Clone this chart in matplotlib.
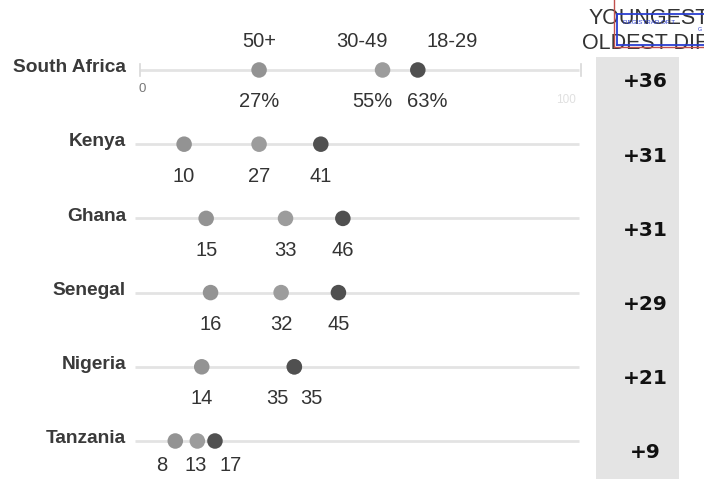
import matplotlib.pyplot as plt
from matplotlib.patches import Rectangle

countries = ["South Africa", "Kenya", "Ghana", "Senegal", "Nigeria", "Tanzania"]
age_groups = ["50+", "30-49", "18-29"]
share_50plus = [27, 10, 15, 16, 14, 8]
share_30_49 = [55, 27, 33, 32, 35, 13]
share_18_29 = [63, 41, 46, 45, 35, 17]
diffs = ["+36", "+31", "+31", "+29", "+21", "+9"]
header = "YOUNGEST-\nOLDEST DIFF"

dot_colors = ["#939393", "#9c9c9c", "#505050"]

W, H = 704, 479
fig = plt.figure(figsize=(W / 100, H / 100), dpi=100)
ax = fig.add_axes([0, 0, 1, 1])
Y_BOTTOM, Y_TOP = 5.512, -0.943
ax.set_xlim(-31.75, 127.9)
ax.set_ylim(Y_BOTTOM, Y_TOP)
ax.axis("off")

font = ["Liberation Sans", "DejaVu Sans"]
txt = "#333333"


def spread(xs, gap):
    """Push label positions apart so neighbours are at least `gap` apart."""
    pos = [float(v) for v in xs]
    order = sorted(range(len(pos)), key=lambda j: pos[j])
    for _ in range(50):
        moved = False
        for a, b in zip(order[:-1], order[1:]):
            d = pos[b] - pos[a]
            if d < gap - 1e-6:
                push = (gap - d) / 2
                pos[a] -= push
                pos[b] += push
                moved = True
        if not moved:
            break
    return pos


# shaded difference column
ax.add_patch(Rectangle((103.5, -0.18), 18.8, 6.0, color="#e4e4e4", zorder=0, lw=0))

series = [share_50plus, share_30_49, share_18_29]
for i, name in enumerate(countries):
    y = i
    left = 0 if i == 0 else -1.2
    ax.plot([left, 99.5], [y, y], color="#e3e3e3", lw=2.0, zorder=1, solid_capstyle="butt")
    if i == 0:
        for xv in (0, 100):
            ax.plot([xv, xv], [y - 0.08, y + 0.08], color="#d8d8d8", lw=1.2, zorder=1)
        ax.text(0.6, y + 0.25, "0", color="#777777", fontsize=9.5, ha="center", va="center",
                family=font)
        ax.text(96.5, y + 0.40, "100", color="#e0e0e0", fontsize=8.5, ha="center",
                va="center", family=font)
    ax.text(-3.2, y - 0.03, name, ha="right", va="center", fontsize=13.8, fontweight="bold",
            color="#3a3a3a", family=font)
    for k, vals in enumerate(series):
        ax.scatter(vals[i], y, s=125, color=dot_colors[k], zorder=3 + k, edgecolors="none")

    # value labels under the dots
    vals = [s[i] for s in series]
    xs = spread(vals, 12.5 if i == 0 else 7.8)
    y_lab = min(y + 0.43, Y_BOTTOM - 0.18)
    for xv, v in zip(xs, vals):
        s = f"{v}%" if i == 0 else f"{v}"
        ax.text(xv, y_lab, s, ha="center", va="center", fontsize=14.5, color=txt,
                family=font)
    if i == 0:
        hx = spread(vals, 20.5)
        for xv, g in zip(hx, age_groups):
            ax.text(xv + 1.5 * (g != "50+"), y - 0.38, g, ha="center", va="center",
                    fontsize=14.5, color=txt, family=font)
    ax.text(114.5, y + 0.16, diffs[i], ha="center", va="center", fontsize=14.5,
            fontweight="bold", color="#111111", family=["DejaVu Sans"])

ax.text(116.1, -0.53, header, ha="center", va="center", fontsize=15.5, color=txt,
        family=font, linespacing=1.25)

# registrar stamp in the top corner
ax.plot([107.5, 107.5], [Y_TOP, -0.31], color="#c0504d", lw=1.0, zorder=6)
ax.plot([107.5, 130], [-0.31, -0.31], color="#c0504d", lw=1.0, zorder=6)
ax.plot([108.2, 130], [-0.755, -0.755], color="#2b3fd0", lw=1.3, zorder=7)
ax.plot([108.2, 130], [-0.34, -0.34], color="#2b3fd0", lw=1.3, zorder=7)
ax.plot([108.2, 108.2], [-0.755, -0.34], color="#2b3fd0", lw=1.3, zorder=7)
ax.text(109.5, -0.64, "REGISTRAR OF T", fontsize=4.5, color="#2b3fd0", ha="left",
        va="center", family=font, zorder=7)
ax.text(126.5, -0.55, "G", fontsize=4, color="#2b3fd0", ha="left", va="center",
        family=font, zorder=7)

fig.savefig("out.png", dpi=100, facecolor="white")
